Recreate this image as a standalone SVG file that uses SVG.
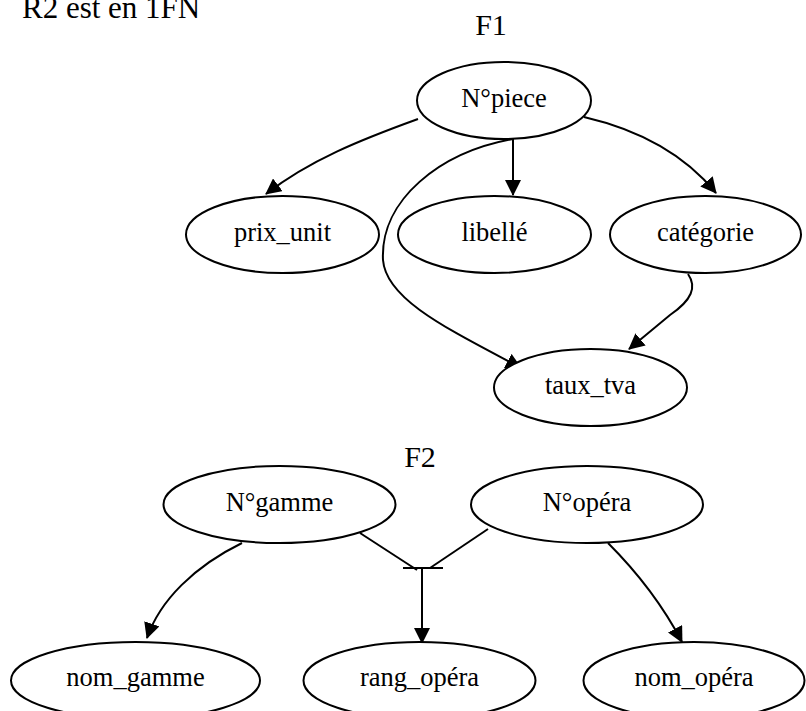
<svg xmlns="http://www.w3.org/2000/svg" width="806" height="711" viewBox="0 0 806 711">
<style>
  .n ellipse { fill: #fff; stroke: #000; stroke-width: 2; }
  .n text, .lbl { font-family: "Liberation Serif", "Times New Roman", serif; fill: #000; text-anchor: middle; }
  .n text { font-size: 26.5px; }
  .lbl { font-size: 30px; }
  #edges path, #edges line { fill: none; stroke: #000; stroke-width: 2; }
  #edges .a { marker-end: url(#arr); }
</style>
<defs>
  <marker id="arr" markerUnits="userSpaceOnUse" markerWidth="16" markerHeight="16" refX="15" refY="8" orient="auto" viewBox="0 0 16 16">
    <path d="M0,0 L16,8 L0,16 z" fill="#000"/>
  </marker>
</defs>
<rect width="806" height="711" fill="#fff"/>
<text x="22" y="18" style="font-family:'Liberation Serif','Times New Roman',serif;font-size:31px;fill:#000">R2 est en 1FN</text>
<text class="lbl" x="491" y="35">F1</text>
<text class="lbl" x="420" y="467">F2</text>

<g id="edges">
  <path class="a" d="M418,119 C360,140 310,160 266,194"/>
  <line class="a" x1="513" y1="139" x2="513" y2="195"/>
  <path class="a" d="M584,117 C640,130 685,155 716,193"/>
  <path class="a" d="M513,139 C440,152 380,200 383,260 C386,300 450,330 521,368"/>
  <path class="a" d="M688,274 C697,287 692,300 670,315 L629,349"/>
  <path class="a" d="M242,543 C195,566 160,600 147,638"/>
  <line x1="360" y1="533" x2="417" y2="570"/>
  <line x1="488" y1="529" x2="430" y2="568"/>
  <line x1="403" y1="568" x2="443" y2="568"/>
  <line class="a" x1="422" y1="568" x2="422" y2="643"/>
  <path class="a" d="M608,543 C630,565 660,600 682,642"/>
</g>

<g id="n_piece" class="n"><ellipse cx="504" cy="100.5" rx="87" ry="38.5"/><text x="504" y="107">N°piece</text></g>
<g id="n_prix" class="n"><ellipse cx="282.5" cy="234.5" rx="96.5" ry="38.5"/><text x="282.5" y="241">prix_unit</text></g>
<g id="n_libelle" class="n"><ellipse cx="494.5" cy="234.5" rx="96.5" ry="38.5"/><text x="494.5" y="241">libellé</text></g>
<g id="n_categorie" class="n"><ellipse cx="705.5" cy="234.5" rx="95.5" ry="38.5"/><text x="705.5" y="241">catégorie</text></g>
<g id="n_tva" class="n"><ellipse cx="590.5" cy="387.5" rx="96.5" ry="38.5"/><text x="590.5" y="394">taux_tva</text></g>
<g id="n_gamme" class="n"><ellipse cx="279.5" cy="504.5" rx="116" ry="38.5"/><text x="279.5" y="511">N°gamme</text></g>
<g id="n_opera" class="n"><ellipse cx="587" cy="504.5" rx="116" ry="38.5"/><text x="587" y="511">N°opéra</text></g>
<g id="n_nomgamme" class="n"><ellipse cx="135.5" cy="680.5" rx="124.5" ry="38.5"/><text x="135.5" y="686">nom_gamme</text></g>
<g id="n_rang" class="n"><ellipse cx="419.5" cy="680.5" rx="116" ry="38.5"/><text x="419.5" y="686">rang_opéra</text></g>
<g id="n_nomopera" class="n"><ellipse cx="694" cy="680.5" rx="110.5" ry="38.5"/><text x="694" y="686">nom_opéra</text></g>
</svg>
